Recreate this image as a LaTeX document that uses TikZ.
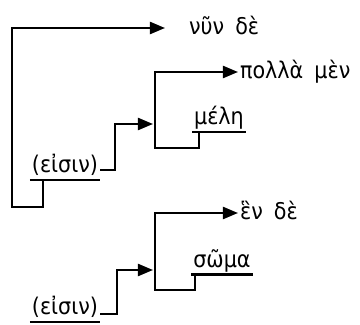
\documentclass[tikz,border=0pt]{standalone}
\usepackage{fontspec}
\setmainfont[WordSpace=1.7]{DejaVu Sans Condensed}
\usetikzlibrary{arrows.meta}

\begin{document}
\begin{tikzpicture}[x=1pt, y=1pt, every node/.style={inner sep=1pt, text depth=5pt, font=\fontsize{23}{27}\selectfont}, every path/.style={line width=2.2pt}, arr/.style={-{Triangle[length=15pt,width=12pt]}}]

\useasboundingbox (0,0) rectangle (360,325);

% Words of the clauses
\node[anchor=west] (nyn) at (187,297) {νῦν δὲ};
\node[anchor=west] (polla) at (238,253) {πολλὰ μὲν};
\node (mele) at (219,207) {μέλη};
\node (eisin1) at (65,159) {(εἰσιν)};
\node[anchor=west] (hen) at (238,112) {ἓν δὲ};
\node (soma) at (222,64) {σῶμα};
\node (eisin2) at (65,17) {(εἰσιν)};

% Points where the connectors meet
\coordinate (left0) at (12,118);
\coordinate (fork1) at (155,177);
\coordinate (tip1) at (153,201);
\coordinate (fork2) at (155,35);
\coordinate (tip2) at (153,55);

% Underlines
\foreach \w in {mele, eisin1, soma, eisin2} {
    \draw (\w.south west) -- (\w.south east);
}

% Outer bracket
\draw[arr, shorten >=22pt] ([xshift=13pt]eisin1.south west) |- (left0) |- (nyn.west);

% First group
\draw[arr] ([xshift=7pt]mele.south west) |- (fork1) |- (polla.west);
\draw[arr] ([yshift=-4pt]eisin1.east) -- ++(15,0) |- (tip1);

% Second group
\draw[arr] ([xshift=4pt]soma.south west) |- (fork2) |- (hen.west);
\draw[arr] ([yshift=-6pt]eisin2.east) -- ++(17,0) |- (tip2);

\end{tikzpicture}
\end{document}
